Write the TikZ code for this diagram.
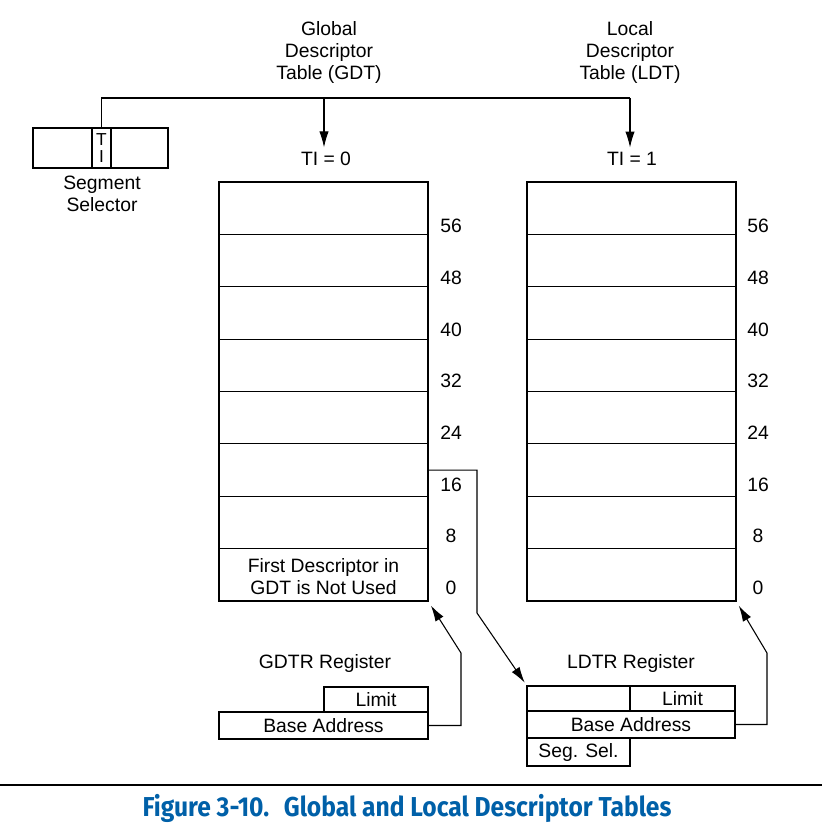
\documentclass[tikz,border=0pt]{standalone}
\usepackage{fontspec}
\setmainfont{Liberation Sans}
\newfontfamily\capfont{Fira Sans}
\usetikzlibrary{arrows.meta}
\definecolor{capblue}{RGB}{0,96,168}
\begin{document}
\begin{tikzpicture}[x=0.75pt,y=-0.75pt,
  every node/.style={font=\fontsize{14.5}{16.5}\selectfont},
  thinline/.style={line width=0.8pt},
  thickline/.style={line width=1.6pt, line join=miter},
  cell/.style={draw, line width=0.8pt, inner sep=0pt, outer sep=0pt,
    minimum width={209*0.75pt}, minimum height={52.375*0.75pt}, anchor=north west},
  reg/.style={draw, line width=0.8pt, inner sep=0pt, outer sep=0pt, anchor=north west},
  lbl/.style={align=center, inner sep=0pt},
  conn/.style={line width=0.8pt},
  arr/.style={conn, -{Latex[length=12pt,width=7pt]}},
]
\useasboundingbox (0,0) rectangle (822,830);

% ---- Segment selector ----
\node[reg, minimum width={59*0.75pt}, minimum height={40*0.75pt}] (sL) at (33,128) {};
\node[reg, minimum width={19*0.75pt}, minimum height={40*0.75pt}, align=center,
  font=\fontsize{13}{13}\selectfont] (sT) at (92,128) {T\\I};
\node[reg, minimum width={57*0.75pt}, minimum height={40*0.75pt}] (sR) at (111,128) {};
\draw[thickline] (sL.north west) rectangle (sR.south east);
\node[lbl] (selcap) at (102,194) {Segment\\Selector};

% ---- Table titles ----
\node[lbl] (gdtt) at (329,53) {Global\\Descriptor\\Table (GDT)};
\node[lbl] (ldtt) at (630,53) {Local\\Descriptor\\Table (LDT)};
\node (tiz) at (326,159) {TI = 0};
\node (tio) at (632,159) {TI = 1};

% ---- Bus from TI bit ----
\coordinate (busG) at (324,98);
\coordinate (busL) at (630,98);
\draw[conn] (sT.north) |- (busL);
\draw[arr] (busG) -- (busG |- tiz.north);
\draw[arr] (busL) -- (busL |- tio.north);

% ---- GDT and LDT ----
\foreach \i in {0,...,7} {
  \node[cell] (g\i) at (219,{182+(7-\i)*52.375}) {};
  \node[cell] (l\i) at (527,{182+(7-\i)*52.375}) {};
  \pgfmathtruncatemacro\v{8*\i}
  \node (gn\i) at (451,{588-\i*51.7}) {\v};
  \node (ln\i) at (758,{588-\i*51.7}) {\v};
}
\draw[thickline] (g7.north west) rectangle (g0.south east);
\draw[thickline] (l7.north west) rectangle (l0.south east);
\node[lbl] (gfirst) at ([yshift=-1.5pt]g0.center) {First Descriptor in\\GDT is Not Used};

% ---- GDTR register ----
\node (gdtrcap) at (325,663) {GDTR Register};
\node[reg, minimum width={104*0.75pt}, minimum height={25*0.75pt}] (gL) at (324,687) {Limit};
\node[reg, minimum width={209*0.75pt}, minimum height={27*0.75pt}] (gB) at (219,712) {Base Address};
\draw[thickline] (gL.north west) -- (gL.north east) -- (gB.south east) -- (gB.south west)
  -- (gB.north west) -- (gL.south west) -- cycle;

% ---- LDTR register ----
\node (ldtrcap) at (631,663) {LDTR Register};
\node[reg, minimum width={103*0.75pt}, minimum height={25*0.75pt}] (lA) at (527,686) {};
\node[reg, minimum width={105*0.75pt}, minimum height={25*0.75pt}] (lL) at (630,686) {Limit};
\node[reg, minimum width={208*0.75pt}, minimum height={27*0.75pt}] (lB) at (527,711) {Base Address};
\node[reg, minimum width={103*0.75pt}, minimum height={28*0.75pt}] (lS) at (527,738) {Seg. Sel.};
\draw[thickline] (lA.north west) -- (lL.north east) -- (lB.south east) -- (lS.north east)
  -- (lS.south east) -- (lS.south west) -- cycle;

% ---- Connectors ----
\coordinate (c1) at (477,613);
\draw[arr, shorten >=3pt] (g2.east) -| (c1) -- (lA.north west);
\coordinate (c2) at (461,653);
\draw[arr, shorten >=4pt] (gB.east) -| (c2) -- (g0.south east);
\coordinate (c3) at (767,653);
\draw[arr, shorten >=4pt] (lB.east) -| (c3) -- (l0.south east);

% ---- Caption ----
\coordinate (ruleL) at (0,785);
\coordinate (ruleR) at (822,785);
\draw[line width=1.6pt] (ruleL) -- (ruleR);
\node[font=\capfont\bfseries\fontsize{20.5}{24}\selectfont, text=capblue, xscale=0.9] (cap) at (407,808)
  {Figure 3-10.\hspace{0.6em}Global and Local Descriptor Tables};
\end{tikzpicture}
\end{document}
